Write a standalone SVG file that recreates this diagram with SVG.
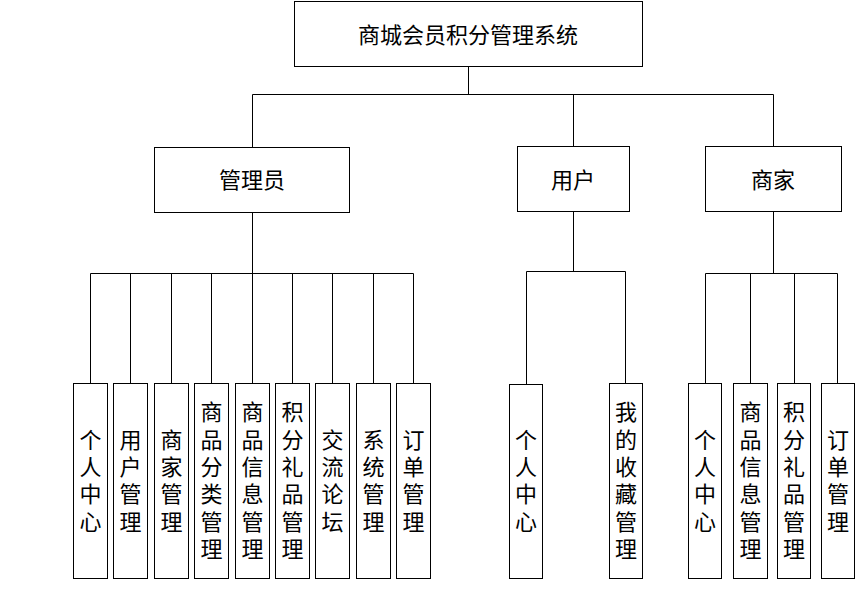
<svg xmlns="http://www.w3.org/2000/svg" width="864" height="589" viewBox="0 0 864 589">
<style>
.box{fill:#fff;stroke:#000;stroke-width:1}
.ln{fill:none;stroke:#000;stroke-width:1}
.lbl{font-family:"Noto Sans CJK SC","Noto Sans",sans-serif;font-size:22px;fill:#000;text-anchor:middle;dominant-baseline:central}
.v{font-family:"Noto Sans CJK SC","Noto Sans",sans-serif;font-size:22px;fill:#000;text-anchor:middle;writing-mode:vertical-rl;letter-spacing:5.3px}
</style>
<rect width="864" height="589" fill="#fff"/>
<g id="connectors" class="ln">
<path d="M468.5 66V94.5M252.5 94.5H773.5M252.5 94.5V147M573.5 94.5V146M773.5 94.5V146"/>
<path d="M252.5 212V273.5M90.5 273.5H413.5M90.5 273.5V383M130.5 273.5V383M171.5 273.5V383M211.5 273.5V383M252.5 273.5V383M292.5 273.5V383M332.5 273.5V383M373.5 273.5V383M413.5 273.5V383"/>
<path d="M573.5 211V271.5M526.5 271.5H625.5M526.5 271.5V384M625.5 271.5V383"/>
<path d="M773.5 211V273.5M705.5 273.5H837.5M705.5 273.5V383M750.5 273.5V383M794.5 273.5V383M837.5 273.5V383"/>
</g>
<g id="root"><rect class="box" x="294.5" y="1.5" width="348" height="65"/><text class="lbl" x="468" y="33">商城会员积分管理系统</text></g>
<g id="admin"><rect class="box" x="154.5" y="147.5" width="195" height="65"/><text class="lbl" x="252" y="178">管理员</text></g>
<g id="user"><rect class="box" x="517.5" y="146.5" width="112" height="65"/><text class="lbl" x="573" y="178">用户</text></g>
<g id="merchant"><rect class="box" x="705.5" y="146.5" width="136" height="65"/><text class="lbl" x="773" y="178">商家</text></g>

<g id="a1"><rect class="box" x="73.5" y="383.5" width="34" height="195"/><text class="v" x="90.5" y="483">个人中心</text></g>
<g id="a2"><rect class="box" x="113.5" y="383.5" width="34" height="195"/><text class="v" x="130.5" y="483">用户管理</text></g>
<g id="a3"><rect class="box" x="154.5" y="383.5" width="34" height="195"/><text class="v" x="171.5" y="483">商家管理</text></g>
<g id="a4"><rect class="box" x="194.5" y="383.5" width="34" height="195"/><text class="v" x="211.5" y="483">商品分类管理</text></g>
<g id="a5"><rect class="box" x="235.5" y="383.5" width="34" height="195"/><text class="v" x="252.5" y="483">商品信息管理</text></g>
<g id="a6"><rect class="box" x="275.5" y="383.5" width="34" height="195"/><text class="v" x="292.5" y="483">积分礼品管理</text></g>
<g id="a7"><rect class="box" x="315.5" y="383.5" width="34" height="195"/><text class="v" x="332.5" y="483">交流论坛</text></g>
<g id="a8"><rect class="box" x="356.5" y="383.5" width="34" height="195"/><text class="v" x="373.5" y="483">系统管理</text></g>
<g id="a9"><rect class="box" x="396.5" y="383.5" width="34" height="195"/><text class="v" x="413.5" y="483">订单管理</text></g>

<g id="u1"><rect class="box" x="509.5" y="384.5" width="33" height="194"/><text class="v" x="526" y="483">个人中心</text></g>
<g id="u2"><rect class="box" x="609.5" y="383.5" width="33" height="195"/><text class="v" x="626" y="483">我的收藏管理</text></g>

<g id="m1"><rect class="box" x="688.5" y="383.5" width="33" height="195"/><text class="v" x="705" y="483">个人中心</text></g>
<g id="m2"><rect class="box" x="733.5" y="383.5" width="34" height="195"/><text class="v" x="750.5" y="483">商品信息管理</text></g>
<g id="m3"><rect class="box" x="777.5" y="383.5" width="33" height="195"/><text class="v" x="794" y="483">积分礼品管理</text></g>
<g id="m4"><rect class="box" x="821.5" y="383.5" width="33" height="195"/><text class="v" x="838" y="483">订单管理</text></g>
</svg>
